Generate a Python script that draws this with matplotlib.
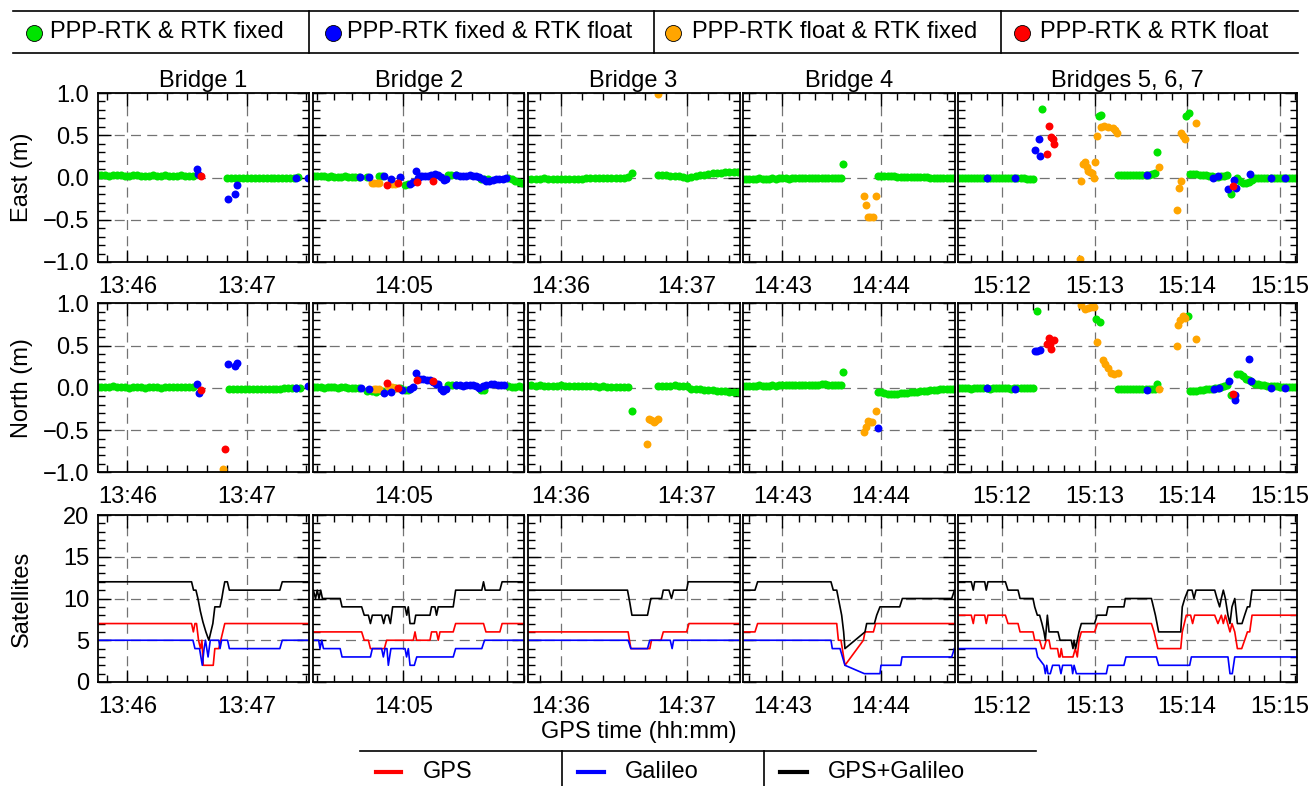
import numpy as np
import matplotlib
matplotlib.use("Agg")
import matplotlib.pyplot as plt
from matplotlib.lines import Line2D
from matplotlib.ticker import MultipleLocator, FixedLocator, FixedFormatter

plt.rcParams['font.family'] = ['Liberation Sans', 'DejaVu Sans']

# ---------------- data ----------------
titles = ["Bridge 1", "Bridge 2", "Bridge 3", "Bridge 4", "Bridges 5, 6, 7"]
# seconds relative to the first labelled minute of each panel
xlims = [(-15, 91.2), (-52.3, 70.3), (-15.8, 84.8), (-23.7, 104.7), (-28.3, 190.8)]
minute_ticks = [[0, 60], [0, 60], [0, 60], [0, 60], [0, 60, 120, 180]]
minute_labels = [["13:46", "13:47"], ["14:05", ""], ["14:36", "14:37"],
                 ["14:43", "14:44"], ["15:12", "15:13", "15:14", "15:15"]]

# green (PPP-RTK & RTK fixed) runs: (start s, values in cm, one every 2 s)
b1_east_green = [(-15, [3, 3, 3, 2, 3, 3, 3, 2, 2, 3, 3, 2, 2, 2, 3, 2, 2, 3, 2, 2, 2, 3, 2, 2, 2]),
                 (50, [-1, -1, -1, 0, -1, -1, -1, 0, 0, -1, 0, 0, -1, 0, 0, 0, 0, 0, 1])]
b1_north_green = [(-15, [1, 1, 1, 1, 2, 1, 1, 1, 0, 1, 1, 1, 0, 1, 1, 1, 0, 1, 1, 1, 1, 1, 1, 1, 1]),
                  (51, [-2, -2, -2, -2, -2, -2, -2, -1, -1, -1, -1, -1, -1, -1, 0, 0, 0, 0, 0])]
b1_east_blue = ([35, 35.5, 50.4, 54, 55.3, 84.6, 91], [0.10, 0.04, -0.25, -0.20, -0.09, -0.01, 0.0])
b1_east_red = ([37], [0.02])
b1_east_orange = ([], [])
b1_north_blue = ([35, 35.8, 50.4, 54, 55.3, 84.6, 91], [0.05, -0.06, 0.28, 0.26, 0.29, 0.0, 0.02])
b1_north_red = ([37, 49.3], [-0.03, -0.73])
b1_north_orange = ([48.2], [-0.96])

b2_east_green = [(-52, [2, 2, 2, 2, 1, 2, 1, 1, 1, 2, 1, 1, 1, 1]), (-21, [1]), (-14, [2]), (-12.5, [2]),
                 (1, [-9]), (2.5, [-8]), (26, [3, 3]), (30.5, [3]), (45, [-2]), (47, [-2]), (49, [-2]),
                 (61, [-1]), (63, [-2]), (65, [-4]), (67, [-5]), (69, [-6])]
b2_north_green = [(-52, [1, 1, 1, 0, 1, 1, 1, 0, 1, 1, 0, 0, 0, 0]), (-21.2, [-4]), (-18, [-4, -5]),
                  (-12.5, [-4]), (-7.7, [0]), (-4.8, [0]), (-1.9, [0]), (1, [-3]), (2.9, [-3]), (26, [3]),
                  (28.5, [3]), (30.8, [3]), (45.2, [-3]), (47.1, [-3]), (61, [2, 1]), (65, [1]), (67, [2]),
                  (69.2, [1])]
b2_east_blue = ([-25, -20.2, -11.2, -6.9, -1.9, 3.8, 5.4, 7.3, 8.7, 9.6, 10.6, 12.5, 14.4, 16.3, 18.3,
                 20.2, 22.1, 23.5, 25, 30.8, 32.7, 34.6, 36.5, 38.5, 40.4, 42.3, 44.2, 46.2, 48.1, 50,
                 51.9, 53.8, 55.8, 57.7, 59.6],
                [0.01, 0.01, 0.02, -0.02, 0.01, -0.08, -0.05, 0.08, 0.0, 0.02, 0.02, 0.02, 0.02, 0.03, 0.04,
                 0.03, 0.01, -0.03, -0.02, 0.03, 0.02, 0.02, 0.02, 0.03, 0.02, 0.02, 0.01, -0.02, -0.04, -0.04,
                 -0.03, -0.02, -0.02, -0.02, -0.01])
b2_east_red = ([-9.2, -3.3, 8.1, 17.3], [-0.09, -0.07, -0.05, -0.04])
b2_east_orange = ([-18.3, -16.9, -15.4, -14, -6.7, -4.8], [-0.06, -0.07, -0.07, -0.07, -0.08, -0.08])
b2_north_blue = ([-24.6, -20.2, -11.2, -7.1, -0.6, 3.8, 5.8, 7.3, 9.6, 11.5, 13.5, 15.4, 17.3, 18.8,
                  20.2, 22.1, 23.1, 25, 30.8, 32.7, 34.6, 36.5, 38.5, 40.4, 42.3, 44.2, 46.2, 48.1, 51,
                  52.9, 54.8, 56.7, 58.7],
                 [0.0, -0.02, -0.06, -0.05, -0.03, -0.02, 0.01, 0.17, 0.11, 0.10, 0.09, 0.09, 0.07, 0.05,
                  0.04, -0.01, -0.04, -0.01, 0.03, 0.03, 0.02, 0.03, 0.03, 0.03, 0.02, 0.0, 0.02, 0.03, 0.05,
                  0.04, 0.03, 0.03, 0.03])
b2_north_red = ([-9.2, -2.9, 8.1, 17.3], [0.06, 0.0, 0.09, 0.08])
b2_north_orange = ([-17.3, -15.8, -14.4, -8.7, -6.7, -4.8], [-0.02, -0.02, -0.02, 0.02, 0.01, 0.0])

b3_east_green = [(-16, [-2, -2, -2, -2, -1, -2, -2, -2, -2, -2, -2, -2, -2, -2, -1, -1, -1, -1, -1, -1,
                        0, 0, 0, 0, 1]), (33.9, [5]),
                 (46, [3, 3, 3, 2, 2, 2, 1, 0, 1, 2, 3, 3, 4, 5, 5, 5, 6, 6, 6, 6])]
b3_north_green = [(-16, [3, 3, 2, 3, 2, 2, 2, 2, 3, 2, 2, 2, 2, 2, 2, 2, 2, 1, 2, 1, 1, 1, 1, 1, 1]),
                  (33.9, [-27]),
                  (46, [2, 2, 2, 2, 3, 2, 2, 2, -1, -1, -2, -3, -3, -3, -4, -4, -4, -5, -5, -5])]
b3_east_blue = ([], [])
b3_east_red = ([], [])
b3_east_orange = ([45.9], [0.99])
b3_north_blue = ([], [])
b3_north_red = ([], [])
b3_north_orange = ([41.1, 41.8, 43, 44, 44.9, 46.2], [-0.66, -0.37, -0.38, -0.41, -0.39, -0.37])

b4_east_green = [(-24, [-2, -2, -2, -2, -2, -1, -2, -2, -2, -1, -2, -1, -1, -1, -2, -1, -1, -1, -1, -1,
                        0, -1, -1, 0, 0, 0, 0, 0, 0, 0, -1]), (37.1, [16]),
                 (58, [2, 2, 2, 2, 2, 2, 1, 1, 1, 1, 1, 1, 1, 1, 1, 1, 0, 0, 0, 0, 0, 0, 0, 0])]
b4_north_green = [(-24, [2, 2, 2, 2, 2, 3, 2, 2, 2, 3, 2, 3, 3, 3, 3, 3, 3, 3, 3, 3, 3, 3, 3, 3, 4, 4,
                         3, 3, 3, 3, 3]), (37.1, [19]),
                  (58, [-5, -5, -6, -7, -7, -7, -7, -6, -6, -6, -5, -5, -5, -4, -4, -4, -3, -3, -3, -2,
                        -2, -2, -1, -1])]
b4_east_blue = ([], [])
b4_east_red = ([], [])
b4_east_orange = ([49.9, 56.8, 50.7, 51.9, 53.5, 55.2], [-0.22, -0.22, -0.33, -0.47, -0.47, -0.47])
b4_north_blue = ([58], [-0.47])
b4_north_red = ([], [])
b4_north_orange = ([56.8, 51.9, 53.3, 54.8, 50.7, 49.9], [-0.28, -0.39, -0.40, -0.41, -0.46, -0.52])

b5_east_green = [(-28, [-1, -1, -1, 0, -1, -1, -1, -1, -1, 0, -1, -1, -1, -1, -1, -1, 0, -1, -1, -1,
                        -1, -1, -2, -2, -2]), (25.9, [81]), (62.6, [73]), (64.4, [74]),
                 (75, [3, 3, 3, 3, 3, 3, 3, 3, 3, 3, 3, 4, 5]), (100.4, [30]), (119.4, [73]), (121.2, [76]),
                 (122, [4, 4, 4, 3, 3, 3, 2, 2, 1, 1, 2, 2, 3]), (148.2, [-20]),
                 (152, [0, -4, -6, -6, -5, -3, -1, -1, 0, 0, 0, 0, 0, 0, 0, 0, 0, 0, 0, 0])]
b5_north_green = [(-28, [0, 0, 0, 0, -1, 0, 0, 0, 0, 0, -1, 0, 0, 0, 0, 0, 0, -1, 0, 0, 0, 0, 0, 0, 0]),
                  (22.9, [91]), (61.1, [81]), (63.3, [78]),
                  (75, [-2, -2, -2, -2, -2, -2, -2, -2, -2, -2, -2, -1, -2]), (100.4, [4]), (120.5, [85]),
                  (122, [-4, -4, -4, -3, -3, -2, -2, -1, 0, 0, 1, 2, 3]), (148.2, [-8]),
                  (152, [16, 16, 14, 11, 9, 7, 5, 4, 3, 3, 2, 2, 2, 2, 1, 1, 1, 1, 1, 1])]
b5_east_blue = ([-9.5, 8.6, 23.8, 21.6, 24.6, 94.2, 136.7, 140, 146.4, 150.3, 151.8, 160.5, 174.5, 183.2],
                [-0.01, 0.0, 0.46, 0.32, 0.25, 0.03, 0.0, 0.02, -0.14, -0.03, -0.12, 0.04, 0.0, 0.0])
b5_east_red = ([30.7, 32, 33, 33.7, 29.4, 149.5], [0.61, 0.48, 0.46, 0.40, 0.28, -0.10])
b5_east_orange = ([51, 52.5, 53.6, 54.9, 55.7, 57, 58.3, 59.6, 60.5, 61.8, 64.4, 66, 68.7, 71.9, 73.4,
                   74.7, 50.7, 101.5, 113.6, 114.7, 115.8, 116.2, 117.5, 118.8, 125.5],
                  [-0.04, 0.16, 0.18, 0.12, 0.08, 0.06, 0.05, 0.0, 0.18, 0.49, 0.60, 0.61, 0.60, 0.58, 0.56,
                   0.53, -0.97, 0.12, -0.39, -0.13, -0.04, 0.53, 0.49, 0.45, 0.64])
b5_north_blue = ([-9.5, 8.6, 21.2, 22.9, 24.6, 94.2, 137.4, 140.4, 146.9, 151.2, 150.8, 160.3, 161.6,
                  174.5, 183.2],
                 [0.0, -0.01, 0.43, 0.44, 0.45, -0.03, -0.01, 0.0, 0.08, -0.08, -0.14, 0.34, 0.08, 0.0, 0.0])
b5_north_red = ([30.5, 33.7, 29, 32, 31, 149.7], [0.59, 0.57, 0.52, 0.46, 0.52, -0.07])
b5_north_orange = ([51.4, 53.6, 55.7, 57.9, 59.6, 61.8, 65.4, 67, 68.7, 70.4, 72.6, 75.2, 101.5, 113.6,
                    114.1, 115.3, 117.1, 118.4, 125.5],
                   [0.98, 0.93, 0.95, 0.96, 0.96, 0.54, 0.33, 0.28, 0.23, 0.17, 0.16, 0.17, -0.01, 0.49,
                    0.74, 0.80, 0.85, 0.83, 0.58])

# satellite counts: (seconds, number) vertices
b1_gps = [(-15, 7), (32.3, 7), (33.2, 6), (34, 7), (34.8, 7), (35.8, 5), (36.8, 4), (37.5, 5), (38.2, 2),
          (43.2, 2), (44, 4), (46, 4), (47, 5), (49, 7), (91.2, 7)]
b1_gal = [(-15, 5), (33, 5), (34, 4), (36.3, 4), (37.7, 2), (38.6, 4), (39.3, 5), (40.6, 3), (41.7, 5),
          (46, 5), (46.6, 4), (47.4, 5), (50.4, 5), (51.3, 4), (76.7, 4), (77.9, 5), (91.2, 5)]
b1_all = [(-15, 12), (32.3, 12), (33.3, 11), (34.5, 11), (35.5, 10), (36.7, 8.5), (38, 7.2), (39.5, 6),
          (41, 5), (42, 6), (43, 7), (44, 9), (46.6, 9), (47.5, 10), (48.2, 11), (49, 12), (50.3, 12),
          (51.3, 11), (76.7, 11), (77.9, 12), (91.2, 12)]

b2_gps = [(-52.3, 6), (-24.2, 6), (-22.7, 5), (-20.3, 5), (-19.1, 4), (-11, 4), (-9.7, 5), (5.8, 5), (6.8, 6),
          (7.7, 5), (15.5, 5), (16.4, 6), (19.3, 6), (20.3, 5), (21.3, 6), (29, 6), (30.4, 7), (46.6, 7),
          (48, 6), (56.1, 6), (57.4, 7), (70.3, 7)]
b2_gal = [(-52.3, 5), (-49.2, 5), (-48.4, 4), (-47.4, 5), (-46.4, 4), (-36.7, 4), (-35.6, 3), (-19.1, 3),
          (-18, 4), (-12.6, 4), (-11.6, 3), (-10.6, 4), (-9.5, 4), (-8.7, 2), (-7.2, 4), (1, 4), (1.9, 3),
          (2.9, 4), (3.9, 2), (6.4, 2), (7.8, 3), (29, 3), (30.4, 4), (45.6, 4), (47.2, 5), (70.3, 5)]
b2_all = [(-52.3, 11), (-51, 10), (-50, 11), (-49, 10), (-48, 11), (-47, 10), (-36.7, 10), (-35.6, 9),
          (-24.2, 9), (-22.7, 8), (-20.3, 8), (-19.1, 7), (-18, 8), (-12.6, 8), (-11.4, 7), (-10.3, 8),
          (-8.7, 8), (-7.5, 7), (-6.2, 9), (1, 9), (2, 8), (2.9, 9), (3.9, 7), (6.4, 7), (7.2, 8), (15.5, 8),
          (16.4, 9), (18.4, 9), (19.3, 8), (20.3, 9), (29, 9), (30.4, 11), (45.6, 11), (46.6, 12),
          (47.6, 11), (56.1, 11), (57.4, 12), (70.3, 12)]

b3_gps = [(-15.8, 6), (31.9, 6), (33.2, 4), (42.2, 4), (43, 5), (47.5, 5), (48.6, 6), (59.7, 6), (60.8, 7),
          (84.8, 7)]
b3_gal = [(-15.8, 5), (31.9, 5), (33.2, 4), (41.1, 4), (42.2, 5), (51.9, 5), (52.8, 4), (53.5, 5), (84.8, 5)]
b3_all = [(-15.8, 11), (31.6, 11), (32.7, 9.5), (33.7, 8), (41.1, 8), (42.7, 10), (47.8, 10), (48.6, 11),
          (51.3, 11), (52.5, 10), (53.5, 11), (59.7, 11), (60.4, 12), (84.8, 12)]

b4_gps = [(-23.7, 6), (-16.6, 6), (-15, 7), (33.1, 7), (34.1, 5), (35.7, 5), (38.1, 2), (49.3, 5), (50.3, 6),
          (55.4, 6), (56.8, 7), (104.7, 7)]
b4_gal = [(-23.7, 5), (29.6, 5), (30.4, 4), (35.1, 4), (38.1, 2), (49.9, 1), (59.4, 1), (60, 2), (72, 2),
          (72.8, 3), (103, 3), (104.6, 4)]
b4_all = [(-23.7, 11), (-16.6, 11), (-15, 12), (29.6, 12), (31, 11), (33.1, 11), (34.1, 10), (35.1, 9),
          (36.1, 8), (37.3, 6), (38.1, 4), (50.3, 6), (51.3, 7), (56, 7), (57.4, 8), (59.4, 9), (71.4, 9),
          (73, 10), (103, 10), (104.7, 11)]

b5_gps = [(-28.3, 8), (-19.9, 8), (-18.6, 7), (-17.7, 8), (-11.2, 8), (-10.2, 7), (-9.1, 8), (2.2, 8),
          (3.9, 7), (10.4, 7), (11.7, 6), (20.1, 6), (21.2, 5), (24.4, 5), (25.9, 4), (27.2, 4), (28.7, 5),
          (30.5, 5), (31.5, 4), (36, 4), (36.9, 3), (37.6, 3), (38.4, 4), (39.3, 3), (46, 3), (47.5, 4),
          (48.8, 3), (49.9, 5), (51.4, 6), (60, 6), (61.8, 7), (96.8, 7), (98.5, 6), (101, 4), (115.8, 4),
          (116.8, 6), (119.4, 8), (122.2, 8), (123.5, 7), (124.8, 8), (137.8, 8), (139.9, 7), (142.1, 8),
          (143.4, 7), (144.7, 8), (147.7, 6), (149, 7), (150.8, 6), (152.5, 4), (155.3, 4), (157.2, 5),
          (159, 6), (160.5, 6), (162, 8), (190.8, 8)]
b5_gal = [(-28.3, 4), (22, 4), (23.1, 3), (27.2, 2), (28.1, 1), (29, 2), (29.8, 1), (31.3, 1), (32.8, 2),
          (37.1, 2), (38.2, 1), (39.3, 2), (45.1, 2), (45.8, 1), (46.7, 2), (48.2, 1), (67.6, 1), (68.7, 2),
          (79, 2), (80.3, 3), (100, 3), (101.5, 2), (121.6, 2), (122.7, 3), (146.4, 3), (147.7, 1),
          (149.2, 1), (150.8, 3), (190.8, 3)]
b5_all = [(-28.3, 12), (-19.9, 12), (-18.6, 11), (-17.7, 12), (-11.2, 12), (-10.2, 11), (-9.1, 12),
          (2.2, 12), (3.9, 11), (10.4, 11), (11.7, 10), (20.1, 10), (21.2, 9), (22.9, 8), (24.4, 8),
          (25.9, 7), (27.2, 6), (28.1, 5), (29.4, 8), (30.5, 6), (36.3, 6), (37.6, 5), (44.9, 5), (46, 4),
          (46.7, 5), (47.7, 4), (48.8, 5), (49.9, 6), (51.4, 7), (60, 7), (61.6, 8), (67.6, 8), (68.7, 9),
          (79, 9), (79.9, 10), (96.8, 10), (98.1, 9), (99.4, 8), (101.5, 6), (115.8, 6), (116.8, 9),
          (118.4, 10), (120.5, 11), (123.1, 11), (124.4, 10), (125.7, 11), (137.8, 11), (139.3, 10),
          (141, 9), (142.1, 10), (143.4, 11), (144.7, 10), (146.4, 8), (147.7, 7), (149, 9), (150.8, 10),
          (152.5, 7), (155.5, 7), (157.2, 8), (159, 9), (160.5, 9), (162, 11), (190.8, 11)]

status_labels = ["PPP-RTK & RTK fixed", "PPP-RTK fixed & RTK float",
                 "PPP-RTK float & RTK fixed", "PPP-RTK & RTK float"]
system_labels = ["GPS", "Galileo", "GPS+Galileo"]

# ---------------- styling / layout ----------------
GREEN, BLUE, ORANGE, RED = '#00e400', '#0000ff', '#ffa500', '#ff0000'
FS = 17
W, H = 1313, 786
col_px = [(97.5, 308.7), (313.3, 524.3), (527.7, 739.5), (743.3, 954.5), (958.3, 1296.5)]
row_px = [(93, 262), (303.3, 472.3), (515, 682)]


def fx(px):
    return px / W


def fy(py):
    return 1 - py / H


def runs(segs):
    t, v = [], []
    for t0, vals in segs:
        t.extend(t0 + 2 * np.arange(len(vals)))
        v.extend(np.array(vals) / 100.0)
    return t, v


east = [(b1_east_green, b1_east_orange, b1_east_blue, b1_east_red),
        (b2_east_green, b2_east_orange, b2_east_blue, b2_east_red),
        (b3_east_green, b3_east_orange, b3_east_blue, b3_east_red),
        (b4_east_green, b4_east_orange, b4_east_blue, b4_east_red),
        (b5_east_green, b5_east_orange, b5_east_blue, b5_east_red)]
north = [(b1_north_green, b1_north_orange, b1_north_blue, b1_north_red),
         (b2_north_green, b2_north_orange, b2_north_blue, b2_north_red),
         (b3_north_green, b3_north_orange, b3_north_blue, b3_north_red),
         (b4_north_green, b4_north_orange, b4_north_blue, b4_north_red),
         (b5_north_green, b5_north_orange, b5_north_blue, b5_north_red)]
sats = [(b1_gps, b1_gal, b1_all), (b2_gps, b2_gal, b2_all), (b3_gps, b3_gal, b3_all),
        (b4_gps, b4_gal, b4_all), (b5_gps, b5_gal, b5_all)]

fig = plt.figure(figsize=(W / 100, H / 100), dpi=100)

for c in range(5):
    x0, x1 = col_px[c]
    for r in range(3):
        y0, y1 = row_px[r]
        ax = fig.add_axes([fx(x0), fy(y1), fx(x1) - fx(x0), fy(y0) - fy(y1)])
        ax.set_axisbelow(True)
        ax.set_xlim(*xlims[c])
        ax.xaxis.set_major_locator(FixedLocator(minute_ticks[c]))
        ax.xaxis.set_major_formatter(FixedFormatter(minute_labels[c]))
        ax.xaxis.set_minor_locator(MultipleLocator(10))
        if r < 2:
            ax.set_ylim(-1, 1)
            ax.yaxis.set_major_locator(MultipleLocator(0.5))
            ax.yaxis.set_minor_locator(MultipleLocator(0.1))
            green, orange, blue, red = (east if r == 0 else north)[c]
            gt, gv = runs(green)
            ax.plot(gt, gv, 'o', color=GREEN, ms=5.8, mew=0)
            ax.plot(orange[0], orange[1], 'o', color=ORANGE, ms=5.7, mew=0)
            ax.plot(blue[0], blue[1], 'o', color=BLUE, ms=5.7, mew=0)
            ax.plot(red[0], red[1], 'o', color=RED, ms=5.7, mew=0)
        else:
            ax.set_ylim(0, 20)
            ax.yaxis.set_major_locator(MultipleLocator(5))
            ax.yaxis.set_minor_locator(MultipleLocator(1))
            for series, colr in zip(sats[c], [RED, BLUE, 'black']):
                ax.plot([p[0] for p in series], [p[1] for p in series], color=colr, lw=1.2)
        ax.grid(which='major', color='0.45', lw=0.9, ls=(0, (8, 5)))
        ax.tick_params(which='both', direction='in', top=True, right=True, labelsize=FS,
                       width=1.0, colors='black')
        ax.tick_params(which='major', length=9)
        ax.tick_params(axis='x', which='major', pad=10)
        ax.tick_params(axis='y', which='major', pad=6)
        ax.tick_params(which='minor', length=5)
        if c > 0:
            ax.tick_params(labelleft=False)
        for sp in ax.spines.values():
            sp.set_linewidth(1.3)
        if r == 0:
            ax.set_title(titles[c], fontsize=FS, pad=4)

# y labels
for r, lab in enumerate(["East (m)", "North (m)", "Satellites"]):
    y0, y1 = row_px[r]
    fig.text(fx(22), fy((y0 + y1) / 2), lab, rotation=90, ha='center', va='center', fontsize=FS)

fig.text(fx(639), fy(732), "GPS time (hh:mm)", ha='center', va='center', fontsize=FS)


def fline(xs, ys, **kw):
    fig.add_artist(Line2D([fx(v) for v in xs], [fy(v) for v in ys], transform=fig.transFigure, **kw))


# top legend
fline([13, 1298], [10.7, 10.7], color='black', lw=1.2)
fline([13, 1298], [53.3, 53.3], color='black', lw=1.2)
for xs in [309, 654, 1001]:
    fline([xs, xs], [10.7, 53.3], color='black', lw=1.2)
for lab, colr, mx, tx in zip(status_labels, [GREEN, BLUE, ORANGE, RED],
                             [33.7, 332.6, 673, 1021.6], [50.5, 347, 692, 1040]):
    fline([mx], [32.5], marker='o', ms=11.5, color=colr, mec='black', mew=0.6, ls='none')
    fig.text(fx(tx), fy(32.5), lab, ha='left', va='center', fontsize=FS)

# bottom legend
fline([360, 1035.6], [751, 751], color='black', lw=1.2)
for xs in [562, 764.4]:
    fline([xs, xs], [751, 790], color='black', lw=1.2)
for lab, colr, lx, tx in zip(system_labels, [RED, BLUE, 'black'],
                             [(376, 401), (578, 604), (780.5, 806.8)], [423, 625, 828]):
    fline(list(lx), [772, 772], color=colr, lw=3)
    fig.text(fx(tx), fy(772), lab, ha='left', va='center', fontsize=FS)

fig.savefig("out.png", dpi=100)
